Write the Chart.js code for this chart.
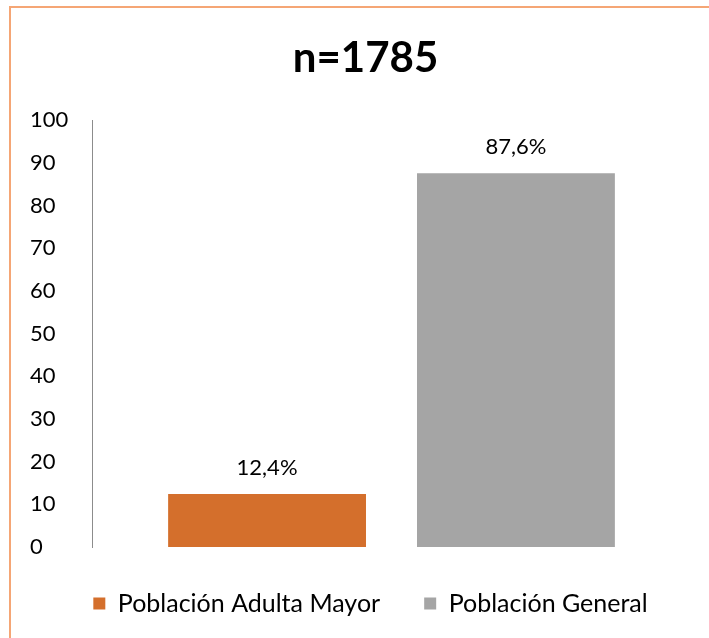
<!DOCTYPE html>
<html>
<head>
<meta charset="utf-8">
<script src="https://cdn.jsdelivr.net/npm/chart.js@4/dist/chart.umd.min.js"></script>
<style>
  html, body { margin: 0; padding: 0; background: #fff; }
  #wrap { position: relative; width: 709px; height: 638px; overflow: hidden; }
  #frame { position: absolute; left: 9px; top: 6px; width: 760px; height: 700px;
           border-left: 2px solid #F5A675; border-top: 2px solid #F5A675; }
  canvas { position: absolute; left: 0; top: 0; }
</style>
</head>
<body>
<div id="wrap">
  <div id="frame"></div>
  <canvas id="poblacion-chart" width="709" height="638"></canvas>
</div>
<script>
const chartTitle = 'n=1785';
const categories = [''];
const seriesNames = ['Población Adulta Mayor', 'Población General'];
const adultaMayor = [12.4];
const general = [87.6];
const seriesColors = ['#D46F2C', '#A5A5A5'];
const yTicks = { min: 0, max: 100, step: 10 };

const fontFamily = 'Lato, "Open Sans", sans-serif';

// simple value labels above each bar, es-ES style (comma decimals)
const barValueLabels = {
    id: 'barValueLabels',
    afterDatasetsDraw(chart) {
        const ctx = chart.ctx;
        ctx.save();
        ctx.font = '22px ' + fontFamily;
        ctx.fillStyle = '#000';
        ctx.textAlign = 'center';
        ctx.textBaseline = 'bottom';
        chart.data.datasets.forEach((ds, i) => {
            chart.getDatasetMeta(i).data.forEach((bar, j) => {
                const txt = ds.data[j].toFixed(1).replace('.', ',') + '%';
                ctx.fillText(txt, bar.x, bar.y - 15);
            });
        });
        ctx.restore();
    }
};

// title and legend sit centred on the whole frame, not just the plot side
const centreOnFrame = {
    id: 'centreOnFrame',
    afterLayout(chart) {
        const shift = (box, dx) => {
            if (!box) return;
            box.left += dx;
            box.right += dx;
        };
        shift(chart.titleBlock, 5);
        shift(chart.legend, 10);
        if (chart.legend && chart.legend.adjustHitBoxes) chart.legend.adjustHitBoxes();
    }
};

const ctx = document.getElementById('poblacion-chart').getContext('2d');
new Chart(ctx, {
    type: 'bar',
    data: {
        labels: categories,
        datasets: [{
            label: seriesNames[0],
            data: adultaMayor,
            backgroundColor: seriesColors[0]
        }, {
            label: seriesNames[1],
            data: general,
            backgroundColor: seriesColors[1]
        }]
    },
    options: {
        responsive: false,
        animation: false,
        categoryPercentage: 0.831,
        barPercentage: 0.795,
        layout: {
            padding: { left: 30, right: 18, top: 0, bottom: 12 }
        },
        scales: {
            x: {
                display: false
            },
            y: {
                min: yTicks.min,
                max: yTicks.max,
                ticks: {
                    stepSize: yTicks.step,
                    crossAlign: 'far',
                    color: '#000',
                    font: { family: fontFamily, size: 22 }
                },
                grid: { display: false },
                border: { display: true, color: '#8C8C8C', width: 1 },
                afterFit(scale) {
                    scale.width = 62;
                }
            }
        },
        plugins: {
            title: {
                display: true,
                text: chartTitle,
                color: '#000',
                font: { family: fontFamily, size: 42, weight: 'bold' },
                padding: { top: 33, bottom: 37 }
            },
            legend: {
                position: 'bottom',
                labels: {
                    boxWidth: 12,
                    boxHeight: 12,
                    color: '#000',
                    padding: 44,
                    font: { family: fontFamily, size: 25 }
                }
            },
            tooltip: { enabled: false }
        }
    },
    plugins: [barValueLabels, centreOnFrame]
});
</script>
</body>
</html>
